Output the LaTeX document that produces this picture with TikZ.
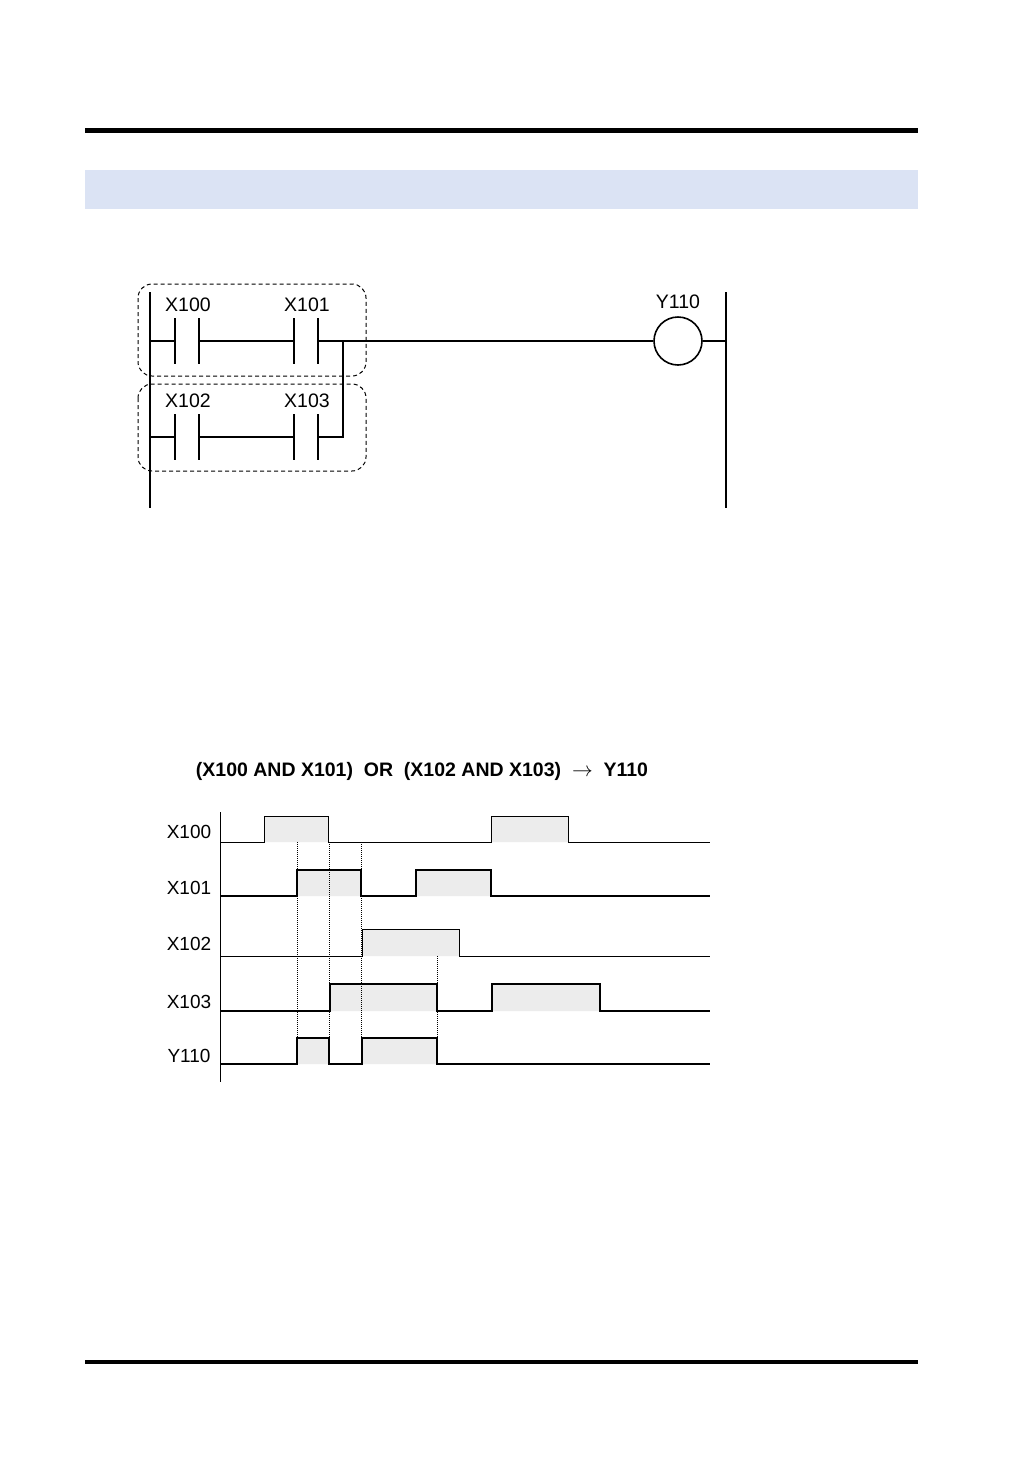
\documentclass[tikz,border=0pt]{standalone}
\usepackage{fontspec}
\setmainfont{Liberation Sans}
\begin{document}
\begin{tikzpicture}[x=1pt,y=-1pt,
 lad/.style={line width=2.4pt},
 wave/.style={line width=1.8pt},
 base/.style={line width=1pt},
 dot/.style={densely dotted,line width=1pt},
 lbl/.style={font=\fontsize{19.5}{19.5}\selectfont,inner sep=0},
 tl/.style={font=\fontsize{19}{19}\selectfont,inner sep=0}]
\useasboundingbox (0,0) rectangle (1032,1457);
\fill[white] (0,0) rectangle (1032,1457);
\draw[line width=5pt] (85,130) -- (918,130);
\fill[fill={rgb,255:red,219;green,227;blue,244}] (85,170) rectangle (918,209);
\draw[line width=3.5pt] (85,1362) -- (918,1362);
% ladder
\draw[dash pattern=on 4pt off 3pt,rounded corners=14pt,line width=1pt] (138,284) rectangle (366,376);
\draw[dash pattern=on 4pt off 3pt,rounded corners=14pt,line width=1pt] (138,384) rectangle (366,471);
\coordinate (lt) at (150,292); \coordinate (lb) at (150,508);
\coordinate (rt) at (726,292); \coordinate (rb) at (726,508);
\draw[lad] (lt) -- (lb); \draw[lad] (rt) -- (rb);
\foreach \y/\a/\b in {341/X100/X101,437/X102/X103}{
 \draw[lad] (150,\y) -- (175,\y) (199,\y) -- (294,\y);
 \foreach \x in {175,199,294,318} \draw[lad] (\x,\y-23) -- (\x,\y+23);
 \node[lbl] at (188,\y-36) {\a};
 \node[lbl] at (307,\y-36) {\b};
}
\draw[lad] (318,437) -- (343,437) -- (343,341);
\node[draw,circle,line width=1.6pt,minimum size=48pt,inner sep=0] (coil) at (678,341) {};
\node[lbl] at (678,302) {Y110};
\draw[lad] (318,341) -- (coil.west);
\draw[lad] (coil.east) -- (726,341);
% timing
\node[inner sep=0,font=\bfseries\fontsize{19.5}{19.5}\selectfont] at (422,771) {(X100 AND X101)\ \ OR\ \ (X102 AND X103)\ \ $\rightarrow$\ \ Y110};
\draw[base] (220,812) -- (220,1082);
\fill[gray!15] (264,816) rectangle (328,842) (491,816) rectangle (568,842)
 (297,870) rectangle (361,896) (416,870) rectangle (491,896)
 (362,929) rectangle (459,956)
 (330,984) rectangle (437,1011) (492,984) rectangle (600,1011)
 (297,1038) rectangle (329,1064) (362,1038) rectangle (437,1064);
\draw[dot] (297,842) -- (297,1064) (329,842) -- (329,1038) (361,842) -- (361,1064) (437,956) -- (437,1038);
\draw[base] (220,842) -- (264,842) -- (264,816) -- (328,816) -- (328,842) -- (491,842) -- (491,816) -- (568,816) -- (568,842) -- (710,842);
\draw[wave] (220,896) -- (297,896) -- (297,870) -- (361,870) -- (361,896) -- (416,896) -- (416,870) -- (491,870) -- (491,896) -- (710,896);
\draw[base] (220,956) -- (362,956) -- (362,929) -- (459,929) -- (459,956) -- (710,956);
\draw[wave] (220,1011) -- (330,1011) -- (330,984) -- (437,984) -- (437,1011) -- (492,1011) -- (492,984) -- (600,984) -- (600,1011) -- (710,1011);
\draw[wave] (220,1064) -- (297,1064) -- (297,1038) -- (329,1038) -- (329,1064) -- (362,1064) -- (362,1038) -- (437,1038) -- (437,1064) -- (710,1064);
\foreach \y/\t in {832/X100,888/X101,944/X102,1002/X103,1056/Y110}
 \node[tl] at (189,\y) {\t};
\end{tikzpicture}
\end{document}
